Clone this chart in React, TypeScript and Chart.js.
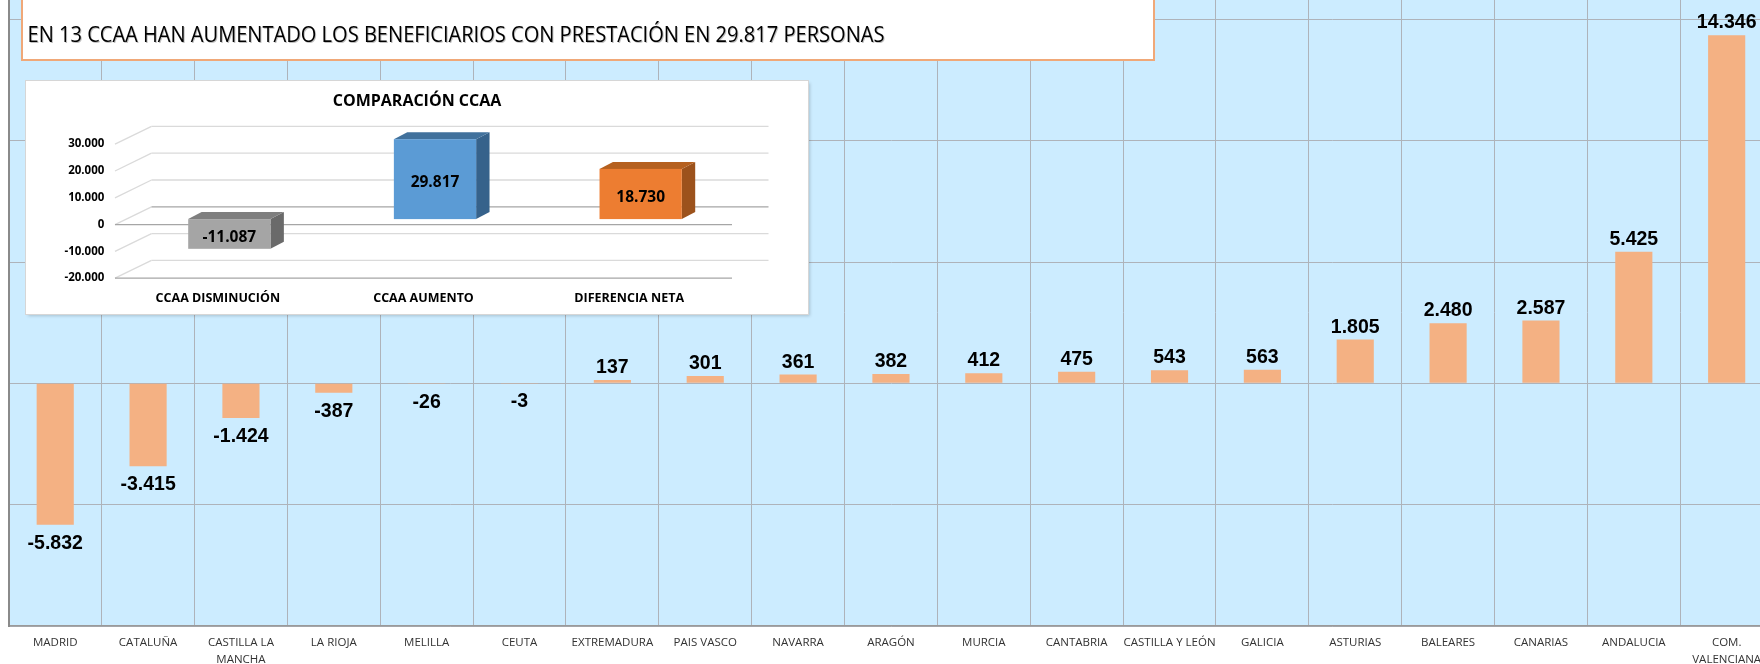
import React, { useEffect, useRef } from "react";
import { Chart, registerables } from "chart.js";

Chart.register(...registerables);

// ---------- DATA ----------
const headline =
  "EN 13 CCAA HAN AUMENTADO LOS BENEFICIARIOS CON PRESTACIÓN EN 29.817 PERSONAS";

const categories: (string | string[])[] = [
  "MADRID",
  "CATALUÑA",
  ["CASTILLA LA", "MANCHA"],
  "LA RIOJA",
  "MELILLA",
  "CEUTA",
  "EXTREMADURA",
  "PAIS VASCO",
  "NAVARRA",
  "ARAGÓN",
  "MURCIA",
  "CANTABRIA",
  "CASTILLA Y LEÓN",
  "GALICIA",
  "ASTURIAS",
  "BALEARES",
  "CANARIAS",
  "ANDALUCIA",
  ["COM.", "VALENCIANA"],
];
const values = [
  -5832, -3415, -1424, -387, -26, -3, 137, 301, 361, 382, 412, 475, 543, 563,
  1805, 2480, 2587, 5425, 14346,
];
const mainTicks = [-10000, -5000, 0, 5000, 10000, 15000];

const insetTitle = "COMPARACIÓN CCAA";
const insetCategories = ["CCAA DISMINUCIÓN", "CCAA AUMENTO", "DIFERENCIA NETA"];
const insetValues = [-11087, 29817, 18730];
const insetTicks = [-20000, -10000, 0, 10000, 20000, 30000];

// ---------- HELPERS ----------
const fmt = (v: number) => {
  const s = Math.abs(Math.round(v))
    .toString()
    .replace(/\B(?=(\d{3})+(?!\d))/g, ".");
  return (v < 0 ? "-" : "") + s;
};

const STYLE = {
  plotBg: "#CCECFF",
  grid: "#AEB3BA",
  bar: "#F4B183",
  insetFront: ["#A5A5A5", "#5B9BD5", "#ED7D31"],
  insetTop: ["#7F7F7F", "#41719C", "#B5601F"],
  insetSide: ["#6A6A6A", "#36628B", "#9C521C"],
};

export default function App() {
  const mainRef = useRef<HTMLCanvasElement | null>(null);
  const insetRef = useRef<HTMLCanvasElement | null>(null);

  useEffect(() => {
    if (!mainRef.current || !insetRef.current) return;

    // ---------- MAIN CHART ----------
    const bgPlugin = {
      id: "plotBg",
      beforeDraw(chart: any) {
        const { ctx, chartArea: a } = chart;
        ctx.save();
        ctx.fillStyle = STYLE.plotBg;
        ctx.fillRect(a.left, a.top, a.right - a.left, a.bottom - a.top);
        ctx.restore();
      },
    };
    const valuePlugin = {
      id: "valueLabels",
      afterDatasetsDraw(chart: any) {
        const { ctx } = chart;
        const meta = chart.getDatasetMeta(0);
        ctx.save();
        ctx.font = 'bold 19.5px "Liberation Sans", Arial, sans-serif';
        ctx.textAlign = "center";
        ctx.textBaseline = "alphabetic";
        ctx.fillStyle = "#000";
        meta.data.forEach((el: any, i: number) => {
          const v = values[i];
          const y = v >= 0 ? el.y - 7 : el.y + 24;
          ctx.fillText(fmt(v), el.x, y);
        });
        ctx.restore();
      },
    };

    const main = new Chart(mainRef.current, {
      type: "bar",
      data: {
        labels: categories as any,
        datasets: [
          {
            data: values,
            backgroundColor: STYLE.bar,
            borderWidth: 0,
            barPercentage: 0.4,
            categoryPercentage: 1,
          },
        ],
      },
      options: {
        responsive: false,
        animation: false,
        layout: { padding: { left: 8.8, right: 6.9, top: 0, bottom: 0 } },
        plugins: { legend: { display: false }, tooltip: { enabled: false } },
        scales: {
          x: {
            offset: true,
            grid: { offset: true, color: STYLE.grid, drawTicks: false, lineWidth: 1 },
            border: { color: "#9A9A9A", width: 1.5 },
            ticks: {
              autoSkip: false,
              maxRotation: 0,
              minRotation: 0,
              padding: 8.5,
              color: "#333",
              font: { family: '"Open Sans", sans-serif', size: 11.5, lineHeight: 1.48 },
            },
            afterFit: (s: any) => {
              s.height = 38;
            },
          },
          y: {
            min: -10000,
            max: 15800,
            afterBuildTicks: (s: any) => {
              s.ticks = mainTicks.map((v) => ({ value: v }));
            },
            ticks: { display: false },
            grid: { color: STYLE.grid, drawTicks: false, lineWidth: 1 },
            border: { color: "#8A8A8A", width: 2 },
            afterFit: (s: any) => {
              s.width = 0;
            },
          },
        },
      } as any,
      plugins: [bgPlugin, valuePlugin],
    });

    // ---------- INSET 3D CHART ----------
    const DEPTH = { x: 36.5, y: -17.8 };
    const BAR_FRONT = { x: 11.5, y: -5.5 };
    const BAR_DEPTH = { x: 13.4, y: -7 };

    const line = (ctx: any, x1: number, y1: number, x2: number, y2: number) => {
      ctx.beginPath();
      ctx.moveTo(x1, y1);
      ctx.lineTo(x2, y2);
      ctx.stroke();
    };
    const poly = (ctx: any, pts: number[][], fill: string) => {
      ctx.beginPath();
      ctx.moveTo(pts[0][0], pts[0][1]);
      for (let i = 1; i < pts.length; i++) ctx.lineTo(pts[i][0], pts[i][1]);
      ctx.closePath();
      ctx.fillStyle = fill;
      ctx.fill();
    };

    const threeD = {
      id: "threeD",
      beforeDatasetsDraw(chart: any) {
        const { ctx, chartArea: a, scales } = chart;
        const y = scales.y;
        ctx.save();
        ctx.lineWidth = 1.3;
        insetTicks.forEach((v) => {
          const py = y.getPixelForValue(v);
          ctx.strokeStyle = "#DADADA";
          line(ctx, a.left, py, a.left + DEPTH.x, py + DEPTH.y);
          ctx.strokeStyle = v === 0 ? "#A6A6A6" : "#DADADA";
          line(ctx, a.left + DEPTH.x, py + DEPTH.y, a.right + DEPTH.x, py + DEPTH.y);
        });
        ctx.strokeStyle = "#A6A6A6";
        [0, insetTicks[0]].forEach((v) => {
          const py = y.getPixelForValue(v);
          line(ctx, a.left, py, a.right, py);
        });
        // title
        ctx.fillStyle = "#000";
        ctx.font = 'bold 16px "Open Sans", sans-serif';
        ctx.textAlign = "center";
        ctx.textBaseline = "alphabetic";
        ctx.fillText(insetTitle, chart.width / 2, 24.5);
        ctx.restore();
      },
      afterDatasetsDraw(chart: any) {
        const { ctx } = chart;
        const meta = chart.getDatasetMeta(0);
        ctx.save();
        meta.data.forEach((el: any, i: number) => {
          const x1 = el.x - el.width / 2 + BAR_FRONT.x;
          const x2 = el.x + el.width / 2 + BAR_FRONT.x;
          const yT = Math.min(el.y, el.base) + BAR_FRONT.y;
          const yB = Math.max(el.y, el.base) + BAR_FRONT.y;
          poly(
            ctx,
            [
              [x2, yT],
              [x2 + BAR_DEPTH.x, yT + BAR_DEPTH.y],
              [x2 + BAR_DEPTH.x, yB + BAR_DEPTH.y],
              [x2, yB],
            ],
            STYLE.insetSide[i]
          );
          poly(
            ctx,
            [
              [x1, yT],
              [x2, yT],
              [x2 + BAR_DEPTH.x, yT + BAR_DEPTH.y],
              [x1 + BAR_DEPTH.x, yT + BAR_DEPTH.y],
            ],
            STYLE.insetTop[i]
          );
          ctx.fillStyle = STYLE.insetFront[i];
          ctx.fillRect(x1, yT, x2 - x1, yB - yT);
          ctx.fillStyle = "#000";
          ctx.font = 'bold 15.5px "Open Sans", sans-serif';
          ctx.textAlign = "center";
          ctx.textBaseline = "alphabetic";
          ctx.fillText(fmt(insetValues[i]), (x1 + x2) / 2, (yT + yB) / 2 + 8);
        });
        ctx.restore();
      },
    };

    const inset = new Chart(insetRef.current, {
      type: "bar",
      data: {
        labels: insetCategories,
        datasets: [
          {
            data: insetValues,
            backgroundColor: "rgba(0,0,0,0)",
            borderWidth: 0,
            barPercentage: 0.4,
            categoryPercentage: 1,
          },
        ],
      },
      options: {
        responsive: false,
        animation: false,
        layout: { padding: { left: 0, right: 76, top: 63.2, bottom: 0 } },
        plugins: { legend: { display: false }, tooltip: { enabled: false } },
        scales: {
          x: {
            offset: true,
            grid: { display: false, drawTicks: false },
            border: { display: false },
            ticks: {
              padding: 12.6,
              color: "#000",
              maxRotation: 0,
              autoSkip: false,
              font: { family: '"Open Sans", sans-serif', size: 12.5, weight: "bold", lineHeight: 1.2 },
            },
            afterFit: (s: any) => {
              s.height = 35.8;
            },
          },
          y: {
            min: insetTicks[0],
            max: insetTicks[insetTicks.length - 1],
            afterBuildTicks: (s: any) => {
              s.ticks = insetTicks.map((v) => ({ value: v }));
            },
            grid: { display: false, drawTicks: false },
            border: { display: false },
            ticks: {
              padding: 10.7,
              color: "#000",
              font: { family: '"Open Sans", sans-serif', size: 11.5, weight: "bold" },
              callback: (v: any) => fmt(Number(v)),
            },
            afterFit: (s: any) => {
              s.width = 89;
            },
          },
        },
      } as any,
      plugins: [threeD],
    });

    return () => {
      main.destroy();
      inset.destroy();
    };
  }, []);

  return (
    <div
      style={{
        position: "fixed",
        left: 0,
        top: 0,
        width: 1760,
        height: 664,
        overflow: "hidden",
        background: "#fff",
      }}
    >
      <canvas
        ref={mainRef}
        width={1780}
        height={664}
        style={{ position: "absolute", left: 0, top: 0, width: 1780, height: 664 }}
      />
      <div
        style={{
          position: "absolute",
          left: 21,
          top: -4,
          width: 1134,
          height: 65,
          boxSizing: "border-box",
          border: "2px solid #F0A878",
          background: "#fff",
        }}
      />
      <svg
        width={1200}
        height={64}
        style={{ position: "absolute", left: 0, top: 0 }}
      >
        <defs>
          <filter id="tshadow" x="-2%" y="-30%" width="104%" height="160%">
            <feDropShadow dx="1" dy="1" stdDeviation="0.6" floodColor="#000" floodOpacity="0.25" />
          </filter>
        </defs>
        <text
          x={27.5}
          y={41.7}
          fontFamily="'Open Sans', sans-serif"
          fontSize={21}
          textLength={857}
          lengthAdjust="spacingAndGlyphs"
          fill="#000"
          filter="url(#tshadow)"
        >
          {headline}
        </text>
      </svg>
      <div
        style={{
          position: "absolute",
          left: 26,
          top: 81,
          width: 782,
          height: 233,
          background: "#fff",
          boxShadow: "0 0 0 1px #D6D6D6, 2px 2px 3px rgba(0,0,0,0.18)",
        }}
      >
        <canvas
          ref={insetRef}
          width={782}
          height={233}
          style={{ display: "block", width: 782, height: 233 }}
        />
      </div>
    </div>
  );
}
